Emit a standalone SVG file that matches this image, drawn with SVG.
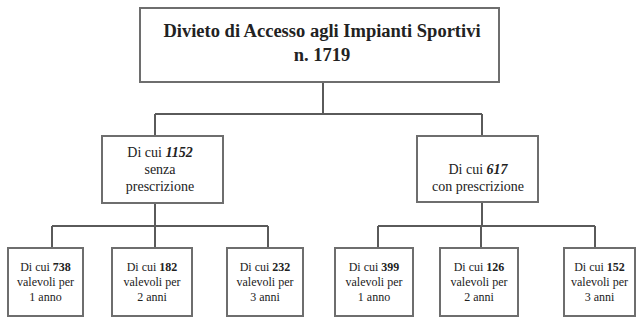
<svg xmlns="http://www.w3.org/2000/svg" width="638" height="320" viewBox="0 0 638 320">
<style>
.box{fill:#fff;stroke:#6e6e6e;stroke-width:2}
.ln{fill:none;stroke:#5a5a5a;stroke-width:2}
text{font-family:"Liberation Serif","Times New Roman",serif;fill:#222;text-anchor:middle}
.t{font-size:18.5px;font-weight:bold}
.m{font-size:14px}
.s{font-size:12px}
.b{font-weight:bold}
.bi{font-weight:bold;font-style:italic}
</style>
<rect width="638" height="320" fill="#fff"/>
<g id="connectors">
<path class="ln" d="M323 82V114M155 114H482M155 114V136M482 114V136"/>
<path class="ln" d="M155 203V226M52 226H268M52 226V248M155 226V248M268 226V248"/>
<path class="ln" d="M482 202V226M378 226H595M378 226V248M481 226V248M595 226V248"/>
</g>
<g id="root">
<rect class="box" x="140" y="8" width="359" height="74"/>
<text class="t" x="322" y="37">Divieto di Accesso agli Impianti Sportivi</text>
<text class="t" x="322" y="61">n. 1719</text>
</g>
<g id="senza">
<rect class="box" x="102" y="136" width="121" height="67"/>
<text class="m" x="160" y="157">Di cui <tspan class="bi">1152</tspan></text>
<text class="m" x="160" y="174">senza</text>
<text class="m" x="160" y="191">prescrizione</text>
</g>
<g id="con">
<rect class="box" x="417" y="136" width="121" height="66"/>
<text class="m" x="478" y="174">Di cui <tspan class="bi">617</tspan></text>
<text class="m" x="478" y="191">con prescrizione</text>
</g>
<g id="s1">
<rect class="box" x="8" y="248" width="75" height="68"/>
<text class="s" x="45.5" y="271">Di cui <tspan class="b">738</tspan></text>
<text class="s" x="45.5" y="286">valevoli per</text>
<text class="s" x="45.5" y="301">1 anno</text>
</g>
<g id="s2">
<rect class="box" x="112" y="248" width="80" height="68"/>
<text class="s" x="152" y="271">Di cui <tspan class="b">182</tspan></text>
<text class="s" x="152" y="286">valevoli per</text>
<text class="s" x="152" y="301">2 anni</text>
</g>
<g id="s3">
<rect class="box" x="227" y="248" width="76" height="68"/>
<text class="s" x="265" y="271">Di cui <tspan class="b">232</tspan></text>
<text class="s" x="265" y="286">valevoli per</text>
<text class="s" x="265" y="301">3 anni</text>
</g>
<g id="c1">
<rect class="box" x="335" y="248" width="78" height="68"/>
<text class="s" x="374" y="271">Di cui <tspan class="b">399</tspan></text>
<text class="s" x="374" y="286">valevoli per</text>
<text class="s" x="374" y="301">1 anno</text>
</g>
<g id="c2">
<rect class="box" x="440" y="248" width="78" height="68"/>
<text class="s" x="479" y="271">Di cui <tspan class="b">126</tspan></text>
<text class="s" x="479" y="286">valevoli per</text>
<text class="s" x="479" y="301">2 anni</text>
</g>
<g id="c3">
<rect class="box" x="564" y="248" width="71" height="68"/>
<text class="s" x="599.5" y="271">Di cui <tspan class="b">152</tspan></text>
<text class="s" x="599.5" y="286">valevoli per</text>
<text class="s" x="599.5" y="301">3 anni</text>
</g>
</svg>
